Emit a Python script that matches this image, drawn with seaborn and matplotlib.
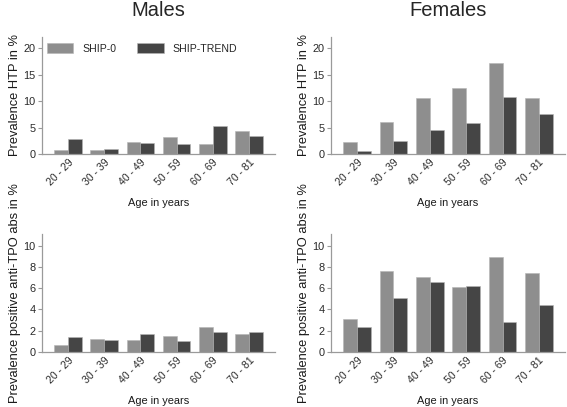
import matplotlib
matplotlib.use("Agg")
import matplotlib.pyplot as plt
import seaborn as sns
import pandas as pd
from matplotlib.patches import Patch

# Values
age_groups = ["20 - 29", "30 - 39", "40 - 49", "50 - 59", "60 - 69", "70 - 81"]
studies = ["SHIP-0", "SHIP-TREND"]

males_htp_ship0 = [0.82, 0.76, 2.2, 3.2, 1.95, 4.3]
males_htp_trend = [2.84, 1.0, 2.1, 1.83, 5.24, 3.4]
females_htp_ship0 = [2.33, 6.0, 10.66, 12.43, 17.2, 10.6]
females_htp_trend = [0.5, 2.46, 4.54, 5.8, 10.8, 7.5]

males_tpo_ship0 = [0.62, 1.25, 1.09, 1.5, 2.31, 1.72]
males_tpo_trend = [1.44, 1.12, 1.72, 1.03, 1.84, 1.84]
females_tpo_ship0 = [3.12, 7.66, 7.09, 6.16, 8.97, 7.47]
females_tpo_trend = [2.37, 5.09, 6.59, 6.22, 2.78, 4.41]

colors = {"SHIP-0": "#8e8e8e", "SHIP-TREND": "#454545"}
spine_col = "#9a9a9a"


def make_df(ship0, trend):
    return pd.DataFrame({
        "age": age_groups * 2,
        "study": [studies[0]] * 6 + [studies[1]] * 6,
        "value": list(ship0) + list(trend),
    })


sns.set_style("white")
plt.rcParams["font.family"] = ["Liberation Sans", "DejaVu Sans"]

fig = plt.figure(figsize=(5.67, 4.07), dpi=100)

W, H = 567.0, 407.0
panels = [
    # (left px, right px, top px, bottom px, data, ylabel, ylim, yticks)
    (42, 275, 37, 154, make_df(males_htp_ship0, males_htp_trend), "Prevalence HTP in %", 22.1, [0, 5, 10, 15, 20]),
    (331, 565, 37, 154, make_df(females_htp_ship0, females_htp_trend), "Prevalence HTP in %", 22.1, [0, 5, 10, 15, 20]),
    (42, 275, 234, 352, make_df(males_tpo_ship0, males_tpo_trend), "Prevalence positive anti-TPO abs in %", 11.1, [0, 2, 4, 6, 8, 10]),
    (331, 565, 234, 352, make_df(females_tpo_ship0, females_tpo_trend), "Prevalence positive anti-TPO abs in %", 11.1, [0, 2, 4, 6, 8, 10]),
]

axes = []
for left, right, top, bottom, df, ylab, ymax, yticks in panels:
    ax = fig.add_axes([left / W, 1 - bottom / H, (right - left) / W, (bottom - top) / H])
    sns.barplot(data=df, x="age", y="value", hue="study", palette=colors,
                width=0.76, dodge=True, ax=ax, edgecolor="#b5b5b5", linewidth=0.4,
                saturation=1, legend=False)
    ax.set_xlim(-0.72, 5.72)
    ax.set_ylim(0, ymax)
    ax.set_yticks(yticks)
    ax.set_ylabel(ylab, fontsize=9.3, color="#1a1a1a", labelpad=2)
    ax.set_xlabel("Age in years", fontsize=7.9, color="#1a1a1a", labelpad=8)
    ax.tick_params(axis="y", length=3, width=0.8, color=spine_col, labelsize=7.9,
                   labelcolor="#2a2a2a", pad=1.5, left=True)
    ax.tick_params(axis="x", length=0, labelsize=7.6, labelcolor="#2a2a2a", pad=2)
    for lbl in ax.get_xticklabels():
        lbl.set_rotation(45)
        lbl.set_ha("right")
        lbl.set_rotation_mode("anchor")
    sns.despine(ax=ax)
    for s in ["left", "bottom"]:
        ax.spines[s].set_color(spine_col)
        ax.spines[s].set_linewidth(0.9)
    axes.append(ax)

# Column titles
fig.text((42 + 275) / 2 / W, 1 - 11 / H, "Males", ha="center", va="center", fontsize=14.5)
fig.text((331 + 565) / 2 / W, 1 - 11 / H, "Females", ha="center", va="center", fontsize=14.5)

# Legend in the top-left panel
handles = [Patch(facecolor=colors[s], edgecolor="#b5b5b5", linewidth=0.4) for s in studies]
axes[0].legend(handles, studies, loc="upper left", bbox_to_anchor=(0.02, 0.95),
               ncol=2, frameon=False, fontsize=7.6, handlelength=2.5, handleheight=1.15,
               handletextpad=0.85, columnspacing=2.0, borderaxespad=0, borderpad=0)

fig.savefig("out.png", dpi=100)
plt.close(fig)
